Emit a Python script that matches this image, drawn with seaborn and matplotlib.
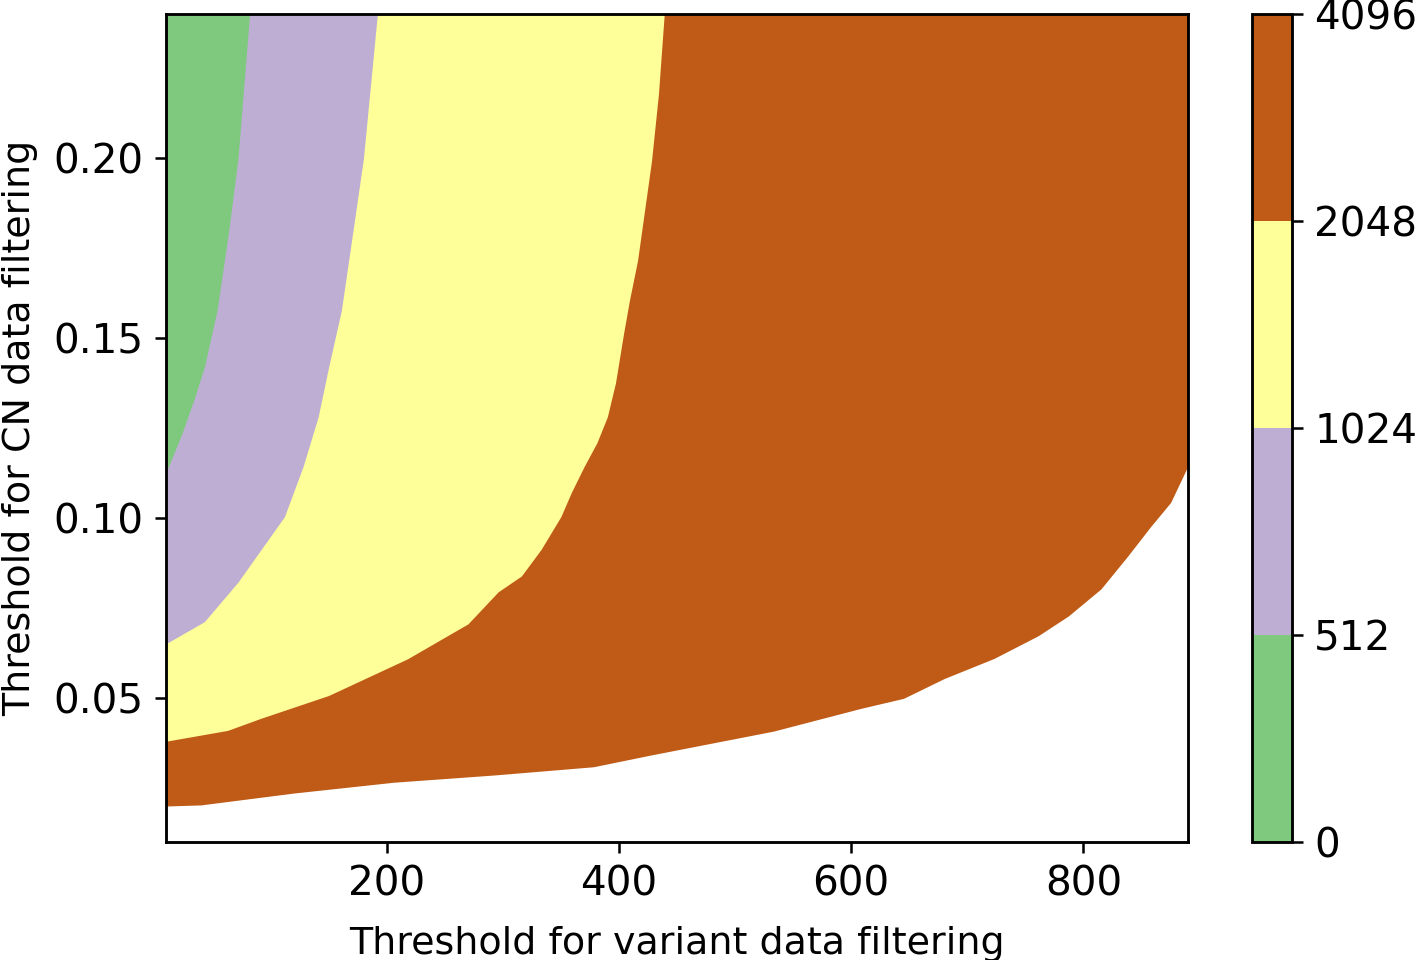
import numpy as np
import seaborn as sns
import matplotlib.pyplot as plt
from matplotlib.colors import ListedColormap, BoundaryNorm
from matplotlib.cm import ScalarMappable

# levels of the filled contour (colorbar)
levels = [0, 512, 1024, 2048, 4096]

# extent of the threshold grid
x_range = [10, 890]
y_range = [0.01, 0.24]

# lower edge of the filled area (white below): variant threshold -> CN threshold
low_x = [10, 40, 120, 206, 292, 378, 428, 533, 608, 645, 680, 723, 761, 787, 815, 838, 858, 875, 890]
low_y = [0.0200, 0.0203, 0.0236, 0.0266, 0.0286, 0.0309, 0.0342, 0.0408, 0.0471, 0.0499,
         0.0554, 0.0610, 0.0673, 0.0728, 0.0803, 0.0894, 0.0977, 0.1043, 0.1145]

# 2048 contour (yellow / brown)
c2048_y = [0.0380, 0.0410, 0.0444, 0.0507, 0.0609, 0.0706, 0.0795, 0.0839, 0.0913, 0.1004, 0.1071,
           0.1143, 0.1209, 0.1281, 0.1375, 0.1513, 0.1604, 0.1715, 0.1853, 0.1991, 0.2177, 0.2400]
c2048_x = [10, 63, 92, 150, 218, 270, 296, 316, 333, 350, 359,
           370, 381, 390, 397, 404, 409, 416, 422, 428, 434, 439]

# 1024 contour (purple / yellow)
c1024_y = [0.0651, 0.0712, 0.0822, 0.0913, 0.1004, 0.1143, 0.1281, 0.1419, 0.1577, 0.1798, 0.1999, 0.2200, 0.2400]
c1024_x = [10, 43, 72, 92, 112, 128, 141, 150, 161, 171, 180, 186, 192]

# 512 contour (green / purple)
c512_y = [0.1126, 0.1237, 0.1328, 0.1419, 0.1577, 0.1798, 0.1999, 0.2200, 0.2400]
c512_x = [10, 24, 34, 43, 54, 64, 72, 77, 82]

sns.set_style("white", {"axes.edgecolor": "black", "xtick.bottom": True, "ytick.left": True,
                        "xtick.color": "black", "ytick.color": "black",
                        "text.color": "black", "axes.labelcolor": "black"})
plt.rcParams["font.family"] = ["DejaVu Sans"]
plt.rcParams["font.size"] = 12
plt.rcParams["xtick.labelsize"] = 12.8
plt.rcParams["ytick.labelsize"] = 12.8
plt.rcParams["axes.linewidth"] = 0.9

accent = sns.color_palette("Accent", 8)
colors = [accent[0], accent[1], accent[3], accent[6]]

fig = plt.figure(figsize=(1415 / 228, 960 / 228), dpi=228)
ax = fig.add_axes([166 / 1415, 1 - 842 / 960, (1188 - 166) / 1415, (842 - 14) / 960])
cax = fig.add_axes([1252 / 1415, 1 - 842 / 960, 40 / 1415, (842 - 14) / 960])

ax.fill_between(low_x, low_y, y_range[1], color=colors[3], lw=0)
ax.fill_betweenx(c2048_y, x_range[0], c2048_x, color=colors[2], lw=0)
ax.fill_betweenx(c1024_y, x_range[0], c1024_x, color=colors[1], lw=0)
ax.fill_betweenx(c512_y, x_range[0], c512_x, color=colors[0], lw=0)

ax.set_xlim(x_range)
ax.set_ylim(y_range)
ax.set_xticks([200, 400, 600, 800])
ax.set_yticks([0.05, 0.10, 0.15, 0.20])
ax.set_xlabel("Threshold for variant data filtering", labelpad=7)
ax.set_ylabel("Threshold for CN data filtering", labelpad=5)
for s in ax.spines.values():
    s.set_visible(True)

cmap = ListedColormap(colors)
norm = BoundaryNorm(levels, cmap.N)
cb = fig.colorbar(ScalarMappable(norm=norm, cmap=cmap), cax=cax, ticks=levels, spacing="uniform")
cb.outline.set_edgecolor("black")

fig.savefig("out.png", dpi=228)
